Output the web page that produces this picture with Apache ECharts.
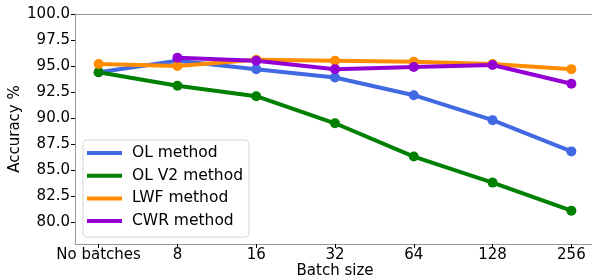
<!DOCTYPE html>
<html>
<head>
    <meta charset="utf-8">
    <title>Accuracy vs batch size</title>
    <script src="https://cdn.jsdelivr.net/npm/echarts@6/dist/echarts.min.js"></script>
    <style>
        html, body { margin: 0; padding: 0; background: #fff; }
        #chart { width: 592px; height: 280px; }
    </style>
</head>
<body>
<div id="chart"></div>
<script>
    // categories on the x axis
    var batchSizes = ['No batches', '8', '16', '32', '64', '128', '256'];
    var yTicks = [80, 82.5, 85, 87.5, 90, 92.5, 95, 97.5, 100];

    // accuracy values
    var olMethod   = [94.4, 95.5, 94.7, 93.9, 92.2, 89.8, 86.8];
    var olV2Method = [94.4, 93.1, 92.1, 89.5, 86.3, 83.8, 81.1];
    var lwfMethod  = [95.2, 95.0, 95.6, 95.5, 95.4, 95.2, 94.7];
    var cwrMethod  = [null, 95.8, 95.5, 94.7, 94.9, 95.1, 93.3];

    function toPoints(arr) {
        var out = [];
        arr.forEach(function (v, i) {
            if (v !== null) out.push([i, v]);
        });
        return out;
    }

    function line(name, color, data) {
        return {
            name: name,
            type: 'line',
            data: toPoints(data),
            symbol: 'circle',
            symbolSize: 10,
            lineStyle: { width: 4, color: color },
            itemStyle: { color: color },
            emphasis: { disabled: true }
        };
    }

    var chart = echarts.init(document.getElementById('chart'));
    var txt = { color: '#000', fontFamily: 'DejaVu Sans', fontSize: 15 };
    var idx = batchSizes.map(function (_, i) { return i; });

    chart.setOption({
        animation: false,
        grid: { left: 75, top: 14, width: 520, height: 230, containLabel: false, outerBoundsMode: 'none' },
        legend: {
            orient: 'vertical',
            left: 83, top: 140,
            itemWidth: 35, itemHeight: 4,
            itemGap: 6.7,
            icon: 'rect',
            padding: [5, 6, 8, 4],
            borderColor: '#d6d6d6', borderWidth: 1, borderRadius: 4,
            backgroundColor: 'rgba(255,255,255,0.8)',
            textStyle: { color: '#000', fontFamily: 'DejaVu Sans', fontSize: 15.5, padding: [0, 0, 0, 5] },
            data: ['OL method', 'OL V2 method', 'LWF method', 'CWR method']
        },
        xAxis: [{
            type: 'value',
            min: -0.3, max: 6.3,
            name: 'Batch size',
            nameLocation: 'middle',
            nameGap: 20,
            nameMoveOverlap: false,
            nameTextStyle: txt,
            splitLine: { show: false },
            axisLine: { onZero: false, lineStyle: { color: '#999', width: 1 } },
            axisTick: { customValues: idx, length: 4, lineStyle: { color: '#000' } },
            axisLabel: Object.assign({
                customValues: idx,
                margin: 4,
                formatter: function (v) { return batchSizes[Math.round(v)]; }
            }, txt)
        }, {
            type: 'value',
            position: 'top',
            min: -0.3, max: 6.3,
            splitLine: { show: false },
            axisLine: { show: true, onZero: false, lineStyle: { color: '#999', width: 1 } },
            axisTick: { show: false },
            axisLabel: { show: false }
        }],
        yAxis: {
            type: 'value',
            min: 77.9, max: 100,
            name: 'Accuracy %',
            nameLocation: 'middle',
            nameGap: 52,
            nameMoveOverlap: false,
            nameTextStyle: txt,
            splitLine: { show: false },
            axisLine: { show: true, onZero: false, lineStyle: { color: '#999', width: 1 } },
            axisTick: { show: true, customValues: yTicks, length: 4, lineStyle: { color: '#000' } },
            axisLabel: Object.assign({
                customValues: yTicks,
                margin: 5,
                formatter: function (v) { return v.toFixed(1); }
            }, txt)
        },
        series: [
            line('OL method', '#4169e1', olMethod),
            line('OL V2 method', '#008000', olV2Method),
            line('LWF method', '#ff8c00', lwfMethod),
            line('CWR method', '#9400d3', cwrMethod)
        ]
    });
</script>
</body>
</html>
